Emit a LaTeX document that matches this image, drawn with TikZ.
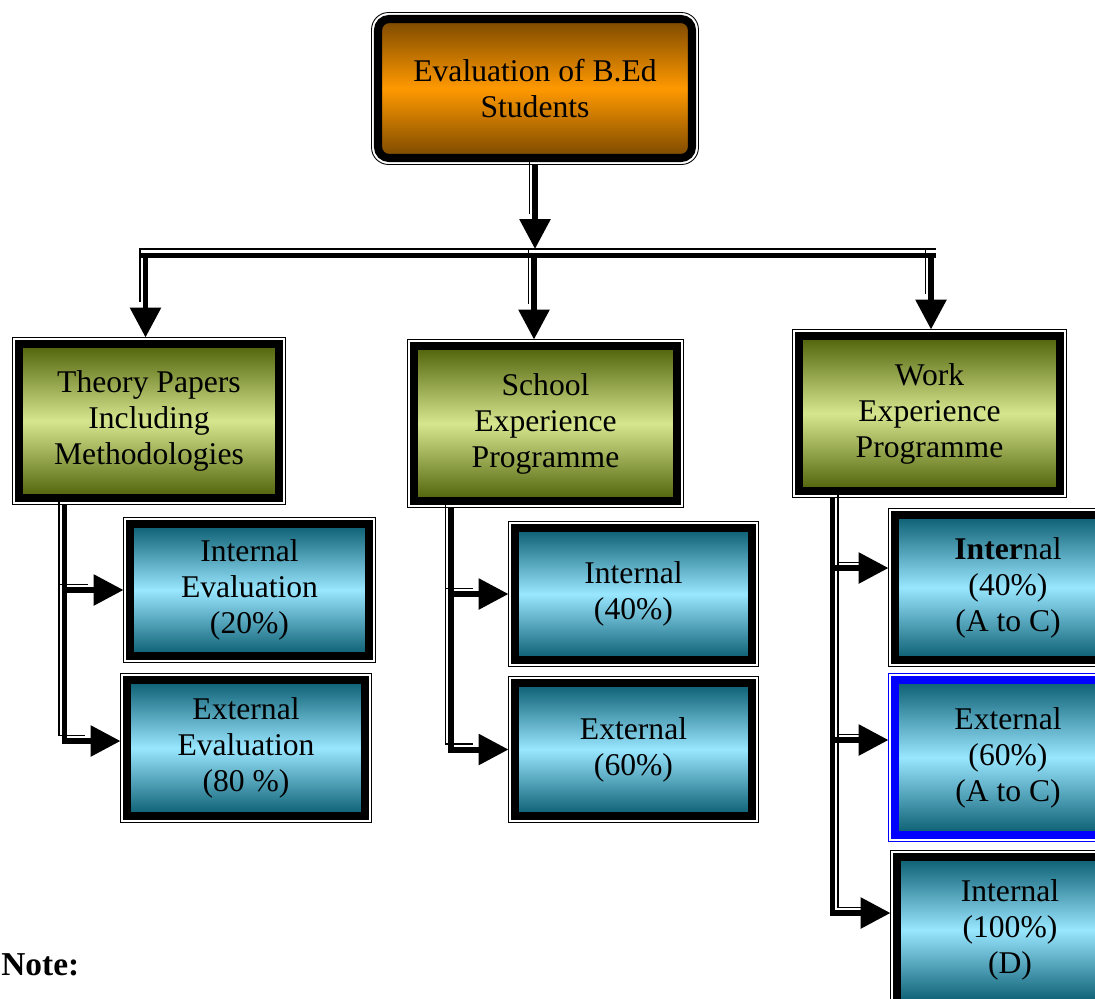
\documentclass[tikz,border=0pt]{standalone}
\usepackage{fontspec}
\setmainfont{Liberation Serif}
\usetikzlibrary{arrows.meta}

\definecolor{orangeedge}{RGB}{122,72,0}
\definecolor{orangemid}{RGB}{255,153,0}
\definecolor{greenedge}{RGB}{78,97,8}
\definecolor{greenmid}{RGB}{214,230,143}
\definecolor{blueedge}{RGB}{9,92,112}
\definecolor{bluemid}{RGB}{153,230,255}

\begin{document}
\begin{tikzpicture}[x=0.02cm,y=-0.02cm,
    box/.style ={draw, line width=4.6pt, outer sep=0.13cm, inner sep=2pt, align=center,
                 font=\fontsize{18}{20.5}\selectfont},
    topbox/.style ={box, rounded corners=0.22cm, top color=orangeedge, bottom color=orangeedge, middle color=orangemid},
    greenbox/.style ={box, top color=greenedge, bottom color=greenedge, middle color=greenmid},
    bluebox/.style ={box, top color=blueedge, bottom color=blueedge, middle color=bluemid},
    arrowline/.style ={line width=3.4pt, -{Triangle[width=0.6cm,length=0.6cm]}},
    link/.style ={arrowline, preaction={draw, -, line width=0.6pt, shorten >=0.6cm,
                  transform canvas={shift={(-5.5,-5.5)}}}},
    rlink/.style ={arrowline, preaction={draw, -, line width=0.6pt, shorten >=0.6cm,
                  transform canvas={shift={(5.5,-5.5)}}}},
    barline/.style ={line width=3.4pt, preaction={draw, line width=0.6pt,
                  transform canvas={shift={(0,-6.5)}}}}]
   \useasboundingbox (0,0) rectangle (1095,998);

   % boxes
   \node[topbox, minimum width=6.28cm, minimum height=2.78cm] (top) at (535,88.5) {Evaluation of B.Ed\\Students};

   \node[greenbox, minimum width=5.2cm, minimum height=3.08cm] (theory) at (149,421) {Theory Papers\\Including\\Methodologies};
   \node[greenbox, minimum width=5.26cm, minimum height=3.1cm] (school) at (545.5,423.5) {School\\Experience\\Programme};
   \node[greenbox, minimum width=5.22cm, minimum height=3.1cm] (work) at (929.5,413.5) {Work\\Experience\\Programme};

   \node[bluebox, minimum width=4.78cm, minimum height=2.64cm] (intA) at (249.5,590) {Internal\\Evaluation\\(20\%)};
   \node[bluebox, minimum width=4.76cm, minimum height=2.72cm] (extA) at (246,748) {External\\Evaluation\\(80 \%)};

   \node[bluebox, minimum width=4.74cm, minimum height=2.64cm] (intB) at (633.5,594) {Internal\\(40\%)};
   \node[bluebox, minimum width=4.74cm, minimum height=2.66cm] (extB) at (633.5,749.5) {External\\(60\%)};

   \node[bluebox, minimum width=4.52cm, minimum height=2.9cm] (intC) at (1008,587.5) {\textbf{Inter}nal\\(40\%)\\(A to C)};
   \node[bluebox, draw=blue, minimum width=4.52cm, minimum height=3.1cm] (extC) at (1008,757.5) {External\\(60\%)\\(A to C)};
   \node[bluebox, minimum width=4.52cm, minimum height=2.92cm] (intD) at (1010,930) {Internal\\(100\%)\\(D)};

   \node[font=\fontsize{19}{21}\selectfont\bfseries, anchor=west, inner sep=0pt] (note) at (1,965) {Note:};

   % thin outer frames
   \draw[line width=0.5pt, rounded corners=0.34cm] (top.north west) rectangle (top.south east);
   \foreach \n in {theory,school,work,intA,extA,intB,extB,intC,intD}
     \draw[line width=0.5pt] (\n.north west) rectangle (\n.south east);
   \draw[line width=0.5pt, blue] (extC.north west) rectangle (extC.south east);

   % connectors
   \coordinate (barL) at (139,255.5);
   \coordinate (barR) at (936,255.5);
   \coordinate (barTop) at (535,249);
   \coordinate (dropA) at (145.5,255.5);
   \coordinate (dropB) at (534,255.5);
   \coordinate (dropC) at (931,255.5);
   \coordinate (trunkA) at (64.5,0);
   \coordinate (trunkB) at (451,0);
   \coordinate (trunkC) at (832.5,0);

   \draw[link] (top.south) -- (top.south |- barTop);
   \draw[barline] (barL) -- (barR);
   \draw[link] (dropA) -- (dropA |- theory.north);
   \draw[link] (dropB) -- (dropB |- school.north);
   \draw[link] (dropC) -- (dropC |- work.north);

   \draw[link] (trunkA |- theory.south) |- ([yshift=0.14cm]extA.west);
   \draw[link] (trunkA |- intA.west) -- (intA.west);

   \draw[link] (trunkB |- school.south) |- (extB.west);
   \draw[link] (trunkB |- intB.west) -- (intB.west);

   \draw[rlink] (trunkC |- work.south) |- ([yshift=0.34cm]intD.west);
   \draw[rlink] ([yshift=0.39cm]intC.west -| trunkC) -- ([yshift=0.39cm]intC.west);
   \draw[rlink] ([yshift=0.35cm]extC.west -| trunkC) -- ([yshift=0.35cm]extC.west);
\end{tikzpicture}
\end{document}
